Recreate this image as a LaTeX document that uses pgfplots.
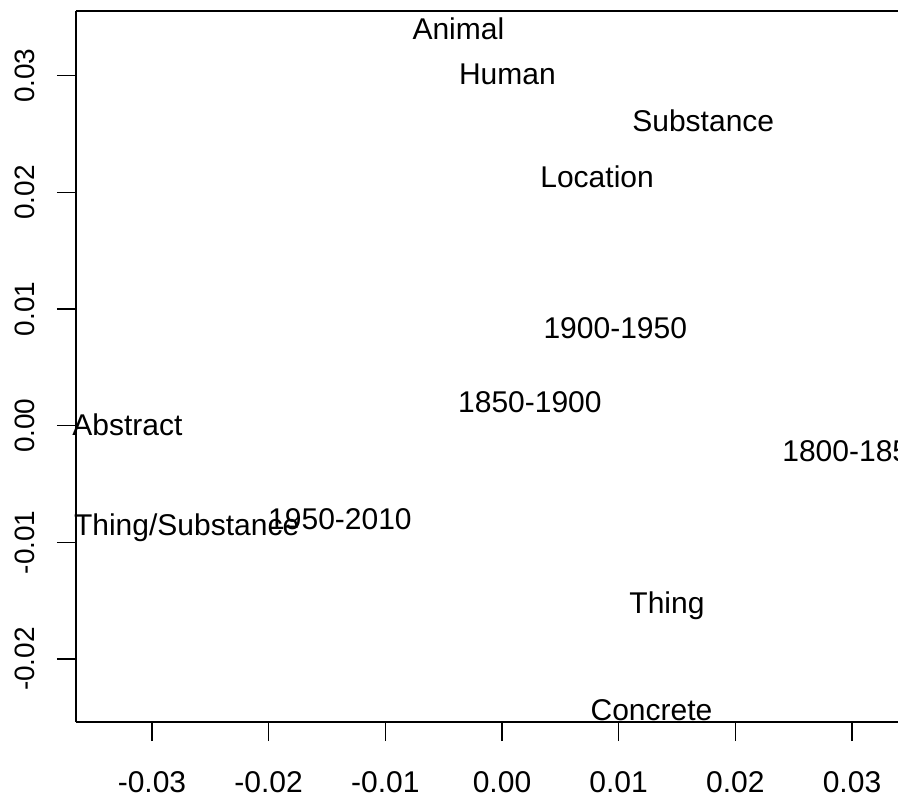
\documentclass[border=0pt]{standalone}
\usepackage{fontspec}
\setmainfont{Liberation Sans}
\usepackage{pgfplots}
\usepackage{pgfplotstable}
\pgfplotsset{compat=1.18}
\pgfplotstableread{
x y label
-0.00374 0.03399 Animal
0.00046 0.03020 Human
0.01725 0.02613 Substance
0.00815 0.02134 Location
0.00971 0.00842 1900-1950
0.00239 0.00206 1850-1900
-0.03211 0.00006 Abstract
0.03018 -0.00217 1800-1850
-0.02703 -0.00851 Thing/Substance
-0.01389 -0.00794 1950-2010
0.01414 -0.01515 Thing
0.01281 -0.02433 Concrete
}\labeltable
\begin{document}
\begin{tikzpicture}
\begin{axis}[
  scale only axis,
  width=822bp, height=711bp,
  xmin=-0.036514, xmax=0.033943,
  ymin=-0.025397, ymax=0.035545,
  axis x line*=box, axis y line*=left,
  xtick pos=bottom, ytick pos=left,
  tick align=outside,
  major tick length=19bp,
  every tick/.style={black, line width=1.2bp},
  axis line style={black, line width=1.2bp},
  scaled ticks=false,
  xtick={-0.03,-0.02,-0.01,0,0.01,0.02,0.03},
  xticklabels={-0.03,-0.02,-0.01,0.00,0.01,0.02,0.03},
  ytick={-0.02,-0.01,0,0.01,0.02,0.03},
  yticklabels={-0.02,-0.01,0.00,0.01,0.02,0.03},
  xticklabel style={font=\fontsize{30bp}{36bp}\selectfont, anchor=north, inner sep=0pt},
  yticklabel style={font=\fontsize{28bp}{34bp}\selectfont, rotate=90, anchor=south, inner sep=0pt},
  xticklabel shift=30bp,
  yticklabel shift=22bp,
  clip=true,
]
\addplot[draw=none, mark=none, nodes near coords, point meta=explicit symbolic,
  nodes near coords style={anchor=base, yshift=-10.74bp, inner sep=0pt,
    font=\fontsize{30bp}{36bp}\selectfont, text=black}]
  table[meta=label]{\labeltable};
\end{axis}
\pgfresetboundingbox
\path ([xshift=-76bp,yshift=-76bp]current axis.south west) rectangle ([yshift=11bp]current axis.north east);
\end{tikzpicture}
\end{document}
